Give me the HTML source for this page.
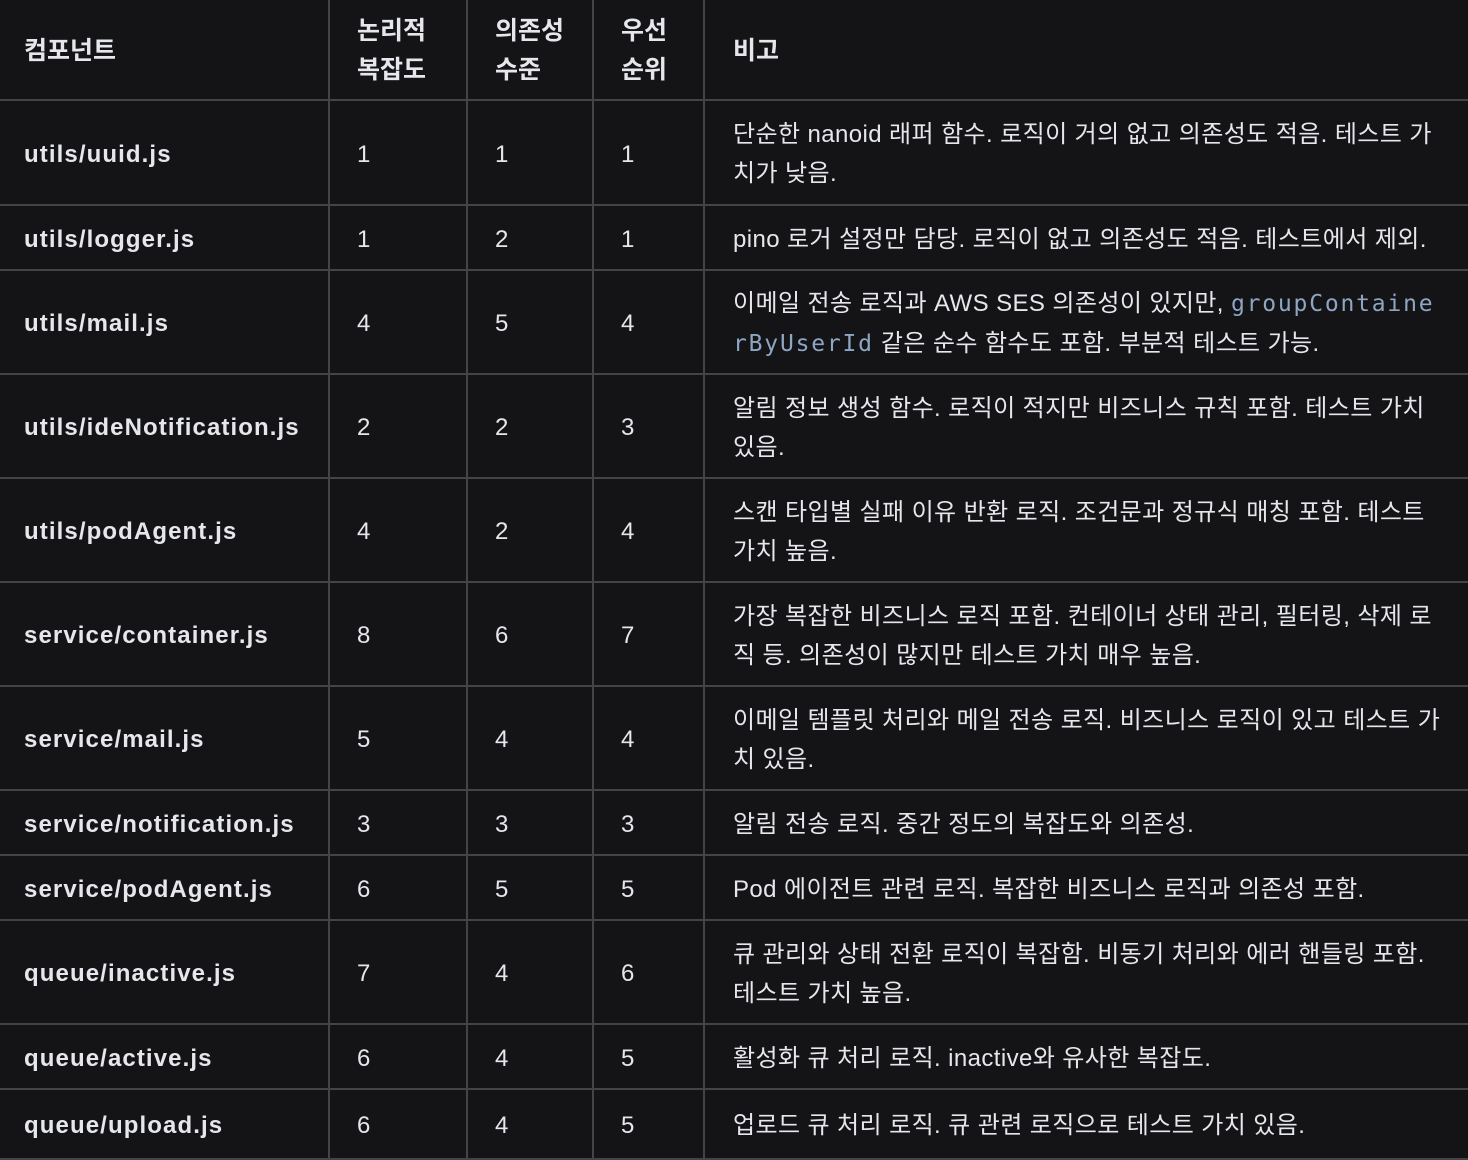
<!DOCTYPE html>
<html><head><meta charset="utf-8"><style>
body{margin:0;width:1468px;height:1146px;background:#141416;overflow:hidden;font-family:"Liberation Sans","Noto Sans CJK KR",sans-serif;color:#e6e7ec}
.c{position:absolute;display:flex;align-items:center;box-sizing:border-box;font-size:24px;line-height:39px;border-right:2px solid #444;border-bottom:2px solid #444;padding-top:3px}
.c>div{width:100%}
.h{font-weight:bold;font-size:25px}
.b{font-weight:bold;letter-spacing:1.1px}
.n{letter-spacing:0.4px}
code{font-family:"DejaVu Sans Mono","Liberation Mono",monospace;color:#8ea5c4;font-size:23px;letter-spacing:1.8px}
</style></head><body>
<div id="t"></div>
<script>
const rows=[0,101,206,271,375,479,583,687,791,856,921,1025,1090,1160];
const cols=[0,330,468,594,705,1470];
const pads=[24,27,27,27,28];
const header=['컴포넌트','논리적<br>복잡도','의존성<br>수준','우선<br>순위','비고'];
const data=[
['utils/uuid.js','1','1','1','단순한 nanoid 래퍼 함수. 로직이 거의 없고 의존성도 적음. 테스트 가치가 낮음.'],
['utils/logger.js','1','2','1','pino 로거 설정만 담당. 로직이 없고 의존성도 적음. 테스트에서 제외.'],
['utils/mail.js','4','5','4','이메일 전송 로직과 AWS SES 의존성이 있지만, <code>groupContainerByUserId</code> 같은 순수 함수도 포함. 부분적 테스트 가능.'],
['utils/ideNotification.js','2','2','3','알림 정보 생성 함수. 로직이 적지만 비즈니스 규칙 포함. 테스트 가치 있음.'],
['utils/podAgent.js','4','2','4','스캔 타입별 실패 이유 반환 로직. 조건문과 정규식 매칭 포함. 테스트 가치 높음.'],
['service/container.js','8','6','7','가장 복잡한 비즈니스 로직 포함. 컨테이너 상태 관리, 필터링, 삭제 로직 등. 의존성이 많지만 테스트 가치 매우 높음.'],
['service/mail.js','5','4','4','이메일 템플릿 처리와 메일 전송 로직. 비즈니스 로직이 있고 테스트 가치 있음.'],
['service/notification.js','3','3','3','알림 전송 로직. 중간 정도의 복잡도와 의존성.'],
['service/podAgent.js','6','5','5','Pod 에이전트 관련 로직. 복잡한 비즈니스 로직과 의존성 포함.'],
['queue/inactive.js','7','4','6','큐 관리와 상태 전환 로직이 복잡함. 비동기 처리와 에러 핸들링 포함. 테스트 가치 높음.'],
['queue/active.js','6','4','5','활성화 큐 처리 로직. inactive와 유사한 복잡도.'],
['queue/upload.js','6','4','5','업로드 큐 처리 로직. 큐 관련 로직으로 테스트 가치 있음.']
];
const colNames=['component','complexity','dependency','priority','note'];
const t=document.getElementById('t');
const all=[header,...data];
all.forEach((r,ri)=>{
  r.forEach((v,ci)=>{
    const d=document.createElement('div');
    d.className='c'+(ri===0?' h':(ci===0?' b':(ci===4?' n':'')));
    d.style.left=cols[ci]+'px';d.style.top=rows[ri]+'px';
    d.style.width=(cols[ci+1]-cols[ci])+'px';d.style.height=(rows[ri+1]-rows[ri])+'px';
    d.style.paddingLeft=pads[ci]+'px';
    if(ci===4)d.style.paddingRight='22px';
    const inner=document.createElement('div');
    if(ci===4&&v.includes('<code>'))inner.style.wordBreak='break-all';
    inner.innerHTML=v;
    d.appendChild(inner);
    
    
    t.appendChild(d);
  });
});
</script>
</body></html>
